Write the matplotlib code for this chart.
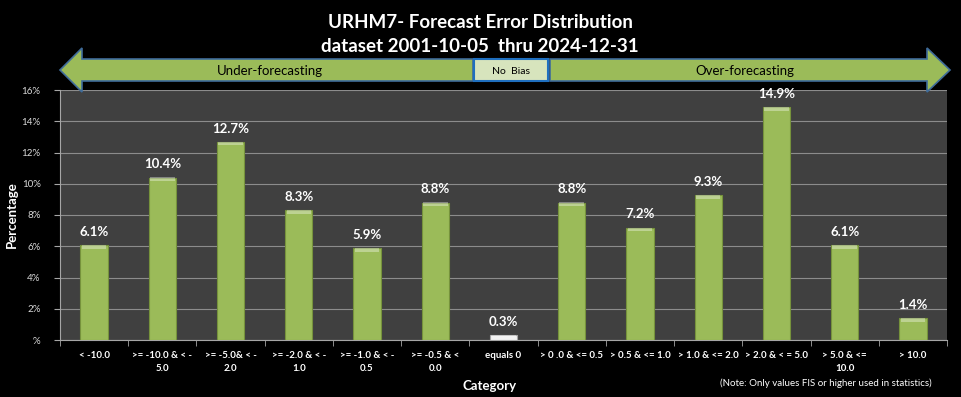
import numpy as np
import matplotlib
matplotlib.use("Agg")
import matplotlib.pyplot as plt
from matplotlib.patches import Polygon, Rectangle

plt.rcParams['font.family'] = ['Lato', 'DejaVu Sans']

# -----------------------------
# Données
# -----------------------------
categories = ["< -10.0", ">= -10.0 & < -\n5.0", ">= -5.0& < -\n2.0", ">= -2.0 & < -\n1.0",
              ">= -1.0 & < -\n0.5", ">= -0.5 & <\n0.0", "equals 0", "> 0 .0 & <= 0.5",
              "> 0.5 & <= 1.0", "> 1.0 & <= 2.0", "> 2.0 & < = 5.0", "> 5.0 & <=\n10.0", "> 10.0"]
values = [6.1, 10.4, 12.7, 8.3, 5.9, 8.8, 0.3, 8.8, 7.2, 9.3, 14.9, 6.1, 1.4]
yticks = [0, 2, 4, 6, 8, 10, 12, 14, 16]
ytick_labels = ["%", "2%", "4%", "6%", "8%", "10%", "12%", "14%", "16%"]

W, H = 961, 397
fig = plt.figure(figsize=(W / 100, H / 100), dpi=100, facecolor="black")

# -----------------------------
# Axe principal
# -----------------------------
ax = fig.add_axes([60 / W, 1 - 340 / H, 887 / W, 250 / H])
ax.set_facecolor("#404040")
x = np.arange(len(values))
colors = ["#F2F2F2" if c == "equals 0" else "#9BBB59" for c in categories]
edges = ["#A6A6A6" if c == "equals 0" else "#76923C" for c in categories]
ax.bar(x, values, width=0.4, color=colors, edgecolor=edges, linewidth=0.8, zorder=3)
# petit reflet en haut des barres
for xi, v in zip(x, values):
    h = min(0.25, v * 0.3)
    ax.bar(xi, h, bottom=v - h, width=0.36, color="white", alpha=0.35, linewidth=0, zorder=4)
    ax.text(xi, v + 0.45, f"{v:.1f}%", ha="center", va="bottom", color="white",
            fontsize=9.5, fontweight="bold", zorder=5)

ax.set_xlim(-0.5, len(values) - 0.5)
ax.set_ylim(0, 16)
ax.set_yticks(yticks)
ax.set_yticklabels(ytick_labels, color="#D9D9D9", fontsize=7)
ax.yaxis.grid(True, color="#8C8C8C", linewidth=0.8, zorder=0)
ax.set_axisbelow(True)
ax.set_xticks(x)
ax.set_xticklabels(categories, color="white", fontsize=7, fontweight="bold", linespacing=1.6)
ax.set_xticks(np.arange(-0.5, len(values)), minor=True)
ax.tick_params(axis="x", which="major", length=0, pad=8)
ax.tick_params(axis="x", which="minor", length=4, color="#A6A6A6")
ax.tick_params(axis="y", length=4, color="#A6A6A6", pad=10)
for s in ["top", "right"]:
    ax.spines[s].set_visible(False)
for s in ["left", "bottom"]:
    ax.spines[s].set_color("#A6A6A6")
ax.set_ylabel("Percentage", color="white", fontsize=9.5, fontweight="bold")
ax.yaxis.set_label_coords(-42 / 887, 0.5)

# -----------------------------
# Titres, flèches, annotations (coordonnées en pixels)
# -----------------------------
ov = fig.add_axes([0, 0, 1, 1], facecolor="none")
ov.set_xlim(0, W)
ov.set_ylim(H, 0)
ov.axis("off")

ov.text(480, 22, "URHM7- Forecast Error Distribution", ha="center", va="center",
        color="white", fontsize=13.5, fontweight="bold")
ov.text(480, 47, "dataset 2001-10-05  thru 2024-12-31", ha="center", va="center",
        color="white", fontsize=13.5, fontweight="bold")

green = "#9BBB59"
left_arrow = [(60, 70), (82, 48), (82, 59), (473, 59), (473, 81), (82, 81), (82, 92)]
right_arrow = [(950, 70), (927, 48), (927, 59), (550, 59), (550, 81), (927, 81), (927, 92)]
ov.add_patch(Polygon(left_arrow, closed=True, facecolor=green, edgecolor="#3F6C9A", linewidth=1.2))
ov.add_patch(Polygon(right_arrow, closed=True, facecolor=green, edgecolor="#3F6C9A", linewidth=1.2))
ov.add_patch(Rectangle((474, 59), 74, 22, facecolor="#D7E4BD", edgecolor="#1F6FBF", linewidth=1.5))
ov.text(270, 71, "Under-forecasting", ha="center", va="center", color="black", fontsize=9.5)
ov.text(511, 71, "No  Bias", ha="center", va="center", color="black", fontsize=7.5)
ov.text(745, 71, "Over-forecasting", ha="center", va="center", color="black", fontsize=9.5)

ov.text(490, 386, "Category", ha="center", va="center", color="white", fontsize=9.5, fontweight="bold")
ov.text(826, 383, "(Note: Only values FIS or higher used in statistics)", ha="center", va="center",
        color="white", fontsize=7)

fig.savefig("out.png", dpi=100, facecolor="black")
